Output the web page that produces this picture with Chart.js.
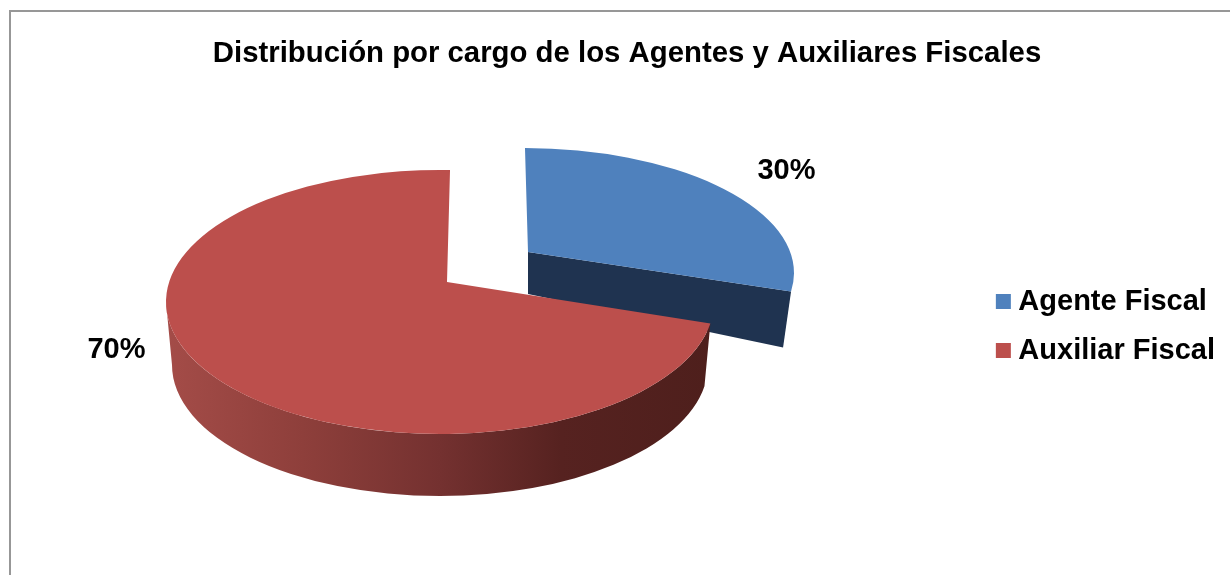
<!DOCTYPE html>
<html><head><meta charset="utf-8">
<script src="https://cdn.jsdelivr.net/npm/chart.js@4"></script>
<style>
html,body{margin:0;padding:0;background:#fff;overflow:hidden;width:1230px;height:575px}
#frame{position:absolute;left:9px;top:10px;width:1260px;height:600px;border:2px solid #979797}
canvas{position:absolute;left:0;top:0}
</style></head><body>
<div id="frame"></div>
<canvas id="c" width="1230" height="575"></canvas>
<script>
const categories = ['Agente Fiscal', 'Auxiliar Fiscal'];
const values = [30, 70];
const topColors = ['#4F81BD', '#BC4F4C'];
const chartTitle = 'Distribución por cargo de los Agentes y Auxiliares Fiscales';

// Oblique 3D view of each slice; the slice angles come from the library's arc elements.
const view = [
  {apexX:528, apexY:252, cx:524, cy:273, rx:270, ry:125, skew:0.029, dropBack:42, dropX:-8, dropFront:56},
  {apexX:447, apexY:282, cx:440, cy:302, rx:274, ry:132, skew:-0.027, botCx:440, botCy:365, botRx:268, botRy:131}
];
const labelPos = [[786.5,171],[116.5,350]];

function hit(v, theta){
  const dx = Math.cos(theta)*v.rx + Math.sin(theta)*v.ry*v.skew, dy = Math.sin(theta)*v.ry;
  const px=(v.apexX-v.cx)/v.rx, py=(v.apexY-v.cy)/v.ry, qx=dx/v.rx, qy=dy/v.ry;
  const a=qx*qx+qy*qy, b=2*(px*qx+py*qy), c=px*px+py*py-1;
  const t=(-b+Math.sqrt(b*b-4*a*c))/(2*a);
  return Math.atan2(py+t*qy, px+t*qx);
}
const pie3d = {
  id:'pie3d',
  afterLayout(chart){ chart.legend.left -= 5; },
  beforeDatasetDraw(chart){
    const ctx=chart.ctx, arcs=chart.getDatasetMeta(0).data;
    // blue slice
    let v=view[0], arc=arcs[0];
    let a0=hit(v,arc.startAngle), a1=hit(v,arc.endAngle);
    const ex=v.cx+v.rx*Math.cos(a1), ey=v.cy+v.ry*Math.sin(a1);
    ctx.save();
    ctx.fillStyle='#1F3350';
    ctx.beginPath();
    ctx.moveTo(v.apexX,v.apexY);ctx.lineTo(ex,ey);ctx.lineTo(ex+v.dropX,ey+v.dropFront);ctx.lineTo(v.apexX,v.apexY+v.dropBack);ctx.closePath();ctx.fill();
    ctx.fillStyle=topColors[0];
    ctx.beginPath();ctx.moveTo(v.apexX,v.apexY);ctx.ellipse(v.cx,v.cy,v.rx,v.ry,0,a0,a1);ctx.closePath();ctx.fill();
    // red slice
    v=view[1]; arc=arcs[1];
    a0=hit(v,arc.startAngle); a1=hit(v,arc.endAngle);
    if(a1<a0)a1+=Math.PI*2;
    const g=ctx.createLinearGradient(v.cx-v.rx,0,v.cx+v.rx,0);
    g.addColorStop(0,'#A44C48');g.addColorStop(.25,'#8E3F3B');g.addColorStop(.5,'#743130');g.addColorStop(.72,'#562220');g.addColorStop(1,'#4E1F1C');
    ctx.fillStyle=g;
    ctx.beginPath();
    ctx.ellipse(v.cx,v.cy,v.rx,v.ry,0,a0,Math.PI);
    ctx.ellipse(v.botCx,v.botCy,v.botRx,v.botRy,0,Math.PI,a0,true);
    ctx.closePath();ctx.fill();
    ctx.fillStyle=topColors[1];
    ctx.beginPath();ctx.moveTo(v.apexX,v.apexY);ctx.ellipse(v.cx,v.cy,v.rx,v.ry,0,a0,a1);ctx.closePath();ctx.fill();
    // percentage labels
    const total=values.reduce((s,x)=>s+x,0);
    ctx.fillStyle='#000';ctx.font='bold 29px "Liberation Sans"';ctx.textAlign='center';ctx.textBaseline='middle';
    values.forEach((x,i)=>ctx.fillText(Math.round(x/total*100)+'%',labelPos[i][0],labelPos[i][1]));
    ctx.restore();
    return false;
  }
};
new Chart(document.getElementById('c'),{
  type:'pie',
  data:{labels:categories,datasets:[{data:values,backgroundColor:topColors,borderWidth:0}]},
  plugins:[pie3d],
  options:{
    responsive:false,animation:false,
    layout:{padding:{left:24,right:0,top:0,bottom:14}},
    plugins:{
      tooltip:{enabled:false},
      title:{display:true,text:chartTitle,color:'#000',font:{family:'"Liberation Sans"',size:29.35,weight:'bold'},padding:{top:36,bottom:20}},
      legend:{position:'right',fullSize:false,labels:{
        color:'#000',font:{family:'"Liberation Sans"',size:29,weight:'bold'},boxWidth:1,boxHeight:1,padding:20,
        generateLabels(chart){return categories.map((t,i)=>({text:t,fillStyle:topColors[i],strokeStyle:topColors[i],lineWidth:14,fontColor:'#000',index:i,hidden:false}));}
      }}
    }
  }
});
</script>
</body></html>
